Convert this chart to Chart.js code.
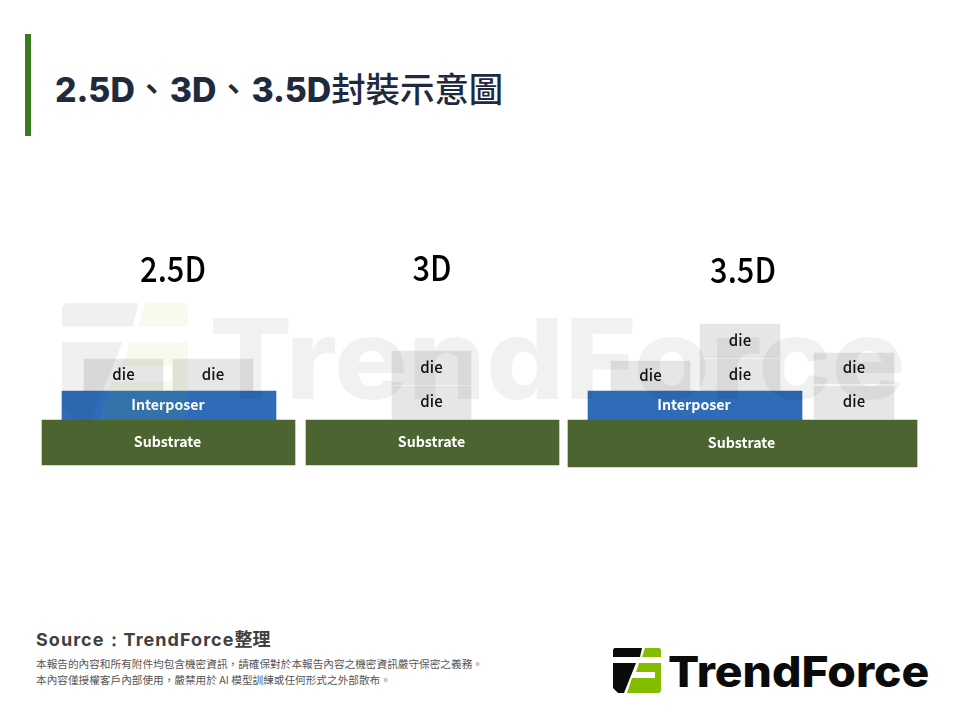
<!DOCTYPE html>
<html>
<head>
<meta charset="utf-8">
<script src="https://cdn.jsdelivr.net/npm/chart.js@4"></script>
<style>
html,body{margin:0;padding:0;background:#fff;}
#page{position:relative;width:960px;height:720px;overflow:hidden;background:#fff;}
#page div,#page canvas,#page svg{position:absolute;}
#bar{left:25px;top:34px;width:6px;height:102px;background:#3a7a1e;}
#title{left:55px;top:62px;font:800 33.8px Inter;color:#1f2a3e;white-space:nowrap;}
#title .gap{display:inline-block;width:35px;font-weight:500;font-family:"Noto Sans CJK TC";}
#title .cjk{font:500 34.4px "Noto Sans CJK TC";}
#myChart{left:0;top:240px;}
#mark{left:209px;top:290px;font:800 112px Inter;color:rgba(0,0,0,0.055);white-space:nowrap;transform:scaleX(1.1);transform-origin:left top;}
#source{left:36px;top:625px;font:700 18px Inter;letter-spacing:1.05px;color:#404040;white-space:nowrap;}
#source .cjk{font:700 18px "Noto Sans CJK TC";letter-spacing:0;}
.note{left:36px;font:400 10.65px "Noto Sans CJK TC";color:#555;white-space:nowrap;}
#brand{left:668px;top:645px;font:800 43px Inter;color:#0b0b0b;white-space:nowrap;transform:scaleX(1.075);transform-origin:left top;}
</style>
</head>
<body>
<div id="page">
	<div id="bar"></div>
	<div id="title">2.5D<span class="gap">、</span>3D<span class="gap">、</span>3.5D<span class="cjk">封裝示意圖</span></div>
	<canvas id="myChart" width="960" height="240"></canvas>
	<svg id="markIcon" style="left:62px;top:300px;opacity:.07" width="126" height="124" viewBox="0 0 48 45">
		<path d="M1.5 0H29L27 9H0V1.5Z" fill="#333"/>
		<path d="M0 15H23L11 45H5L0 40Z" fill="#333"/>
		<path d="M32 0H46.5L48 1.5V9H29Z" fill="#8cc000"/>
		<path d="M26 15H48V43L46 45H14L19 30H42V24H23Z" fill="#8cc000"/>
	</svg>
	<div id="mark">TrendForce</div>
	<div id="source">Source：TrendForce<span class="cjk">整理</span></div>
	<div class="note" style="top:656px">本報告的內容和所有附件均包含機密資訊，請確保對於本報告內容之機密資訊嚴守保密之義務。</div>
	<div class="note" style="top:672px">本內容僅授權客戶內部使用，嚴禁用於 AI 模型訓練或任何形式之外部散布。</div>
	<svg style="left:613px;top:648px" width="48" height="45" viewBox="0 0 48 45">
		<path d="M1.5 0H29L27 9H0V1.5Z" fill="#0b0b0b"/>
		<path d="M0 15H23L11 45H5L0 40Z" fill="#0b0b0b"/>
		<path d="M32 0H46.5L48 1.5V9H29Z" fill="#84bd00"/>
		<path d="M26 15H48V43L46 45H14L19 30H42V24H23Z" fill="#84bd00"/>
	</svg>
	<div id="brand">TrendForce</div>
</div>
<script>
var panelTitles = ['2.5D', '3D', '3.5D'];
var panelCenters = [173, 432, 743];
var panelTitleHeights = [211, 212, 210];

var partNames = ['Substrate', 'Interposer', 'die', 'die',
	'Substrate', 'die', 'die',
	'Substrate', 'Interposer', 'die', 'die', 'die', 'die', 'die'];
var partLeft = [42, 62, 84, 173, 306, 392, 392, 568, 588, 611, 700, 700, 814, 814];
var partRight = [295, 276, 163, 253, 559, 471, 471, 917, 802, 690, 780, 780, 894, 894];
var partBottom = [15, 60, 89, 89, 15, 61, 95, 13, 60, 89, 89, 122, 61, 96];
var partTop = [60, 89, 121, 121, 60, 94, 129, 60, 89, 119, 121, 156, 94, 127];

var substrateColor = '#4c6530';
var interposerColor = '#2e6cb8';
var dieColor = '#e6e6e6';

function partColor(name){
	if(name === 'Substrate') return substrateColor;
	if(name === 'Interposer') return interposerColor;
	return dieColor;
}

var partDatasets = [];
for(var i=0; i<partNames.length; i++){
	partDatasets.push({
		label : partNames[i],
		data : [{x : (partLeft[i] + partRight[i]) / 2, y : [partBottom[i], partTop[i]]}],
		backgroundColor : partColor(partNames[i]),
		barThickness : partRight[i] - partLeft[i],
		grouped : false
	});
}

var partLabels = {
	id : 'partLabels',
	afterDatasetsDraw : function(chart){
		var ctx = chart.ctx;
		ctx.save();
		ctx.textAlign = 'center';
		ctx.textBaseline = 'middle';
		chart.data.datasets.forEach(function(ds, idx){
			var bar = chart.getDatasetMeta(idx).data[0];
			var isDie = ds.label === 'die';
			ctx.fillStyle = isDie ? '#111' : '#fff';
			ctx.font = '700 14.2px "Noto Sans CJK TC"';
			if(isDie) ctx.font = '500 15px "Noto Sans CJK TC"';
			ctx.fillText(ds.label, bar.x - (isDie ? 0 : 1), (bar.y + bar.base) / 2 - 1);
		});
		ctx.fillStyle = '#000';
		ctx.font = '500 35px "Noto Sans CJK TC"';
		for(var p=0; p<panelTitles.length; p++){
			ctx.save();
			ctx.translate(chart.scales.x.getPixelForValue(panelCenters[p]), chart.scales.y.getPixelForValue(panelTitleHeights[p]));
			ctx.scale(0.88, 1);
			ctx.fillText(panelTitles[p], 0, 0);
			ctx.restore();
		}
		ctx.restore();
	}
};

new Chart(document.getElementById('myChart').getContext('2d'), {
	type : 'bar',
	data : {datasets : partDatasets},
	plugins : [partLabels],
	options : {
		responsive : false,
		animation : false,
		layout : {padding : 0},
		plugins : {legend : {display : false}, tooltip : {enabled : false}},
		scales : {
			x : {type : 'linear', min : 0, max : 960, offset : false, display : false},
			y : {type : 'linear', min : 0, max : 240, display : false}
		}
	}
});
</script>
</body>
</html>
